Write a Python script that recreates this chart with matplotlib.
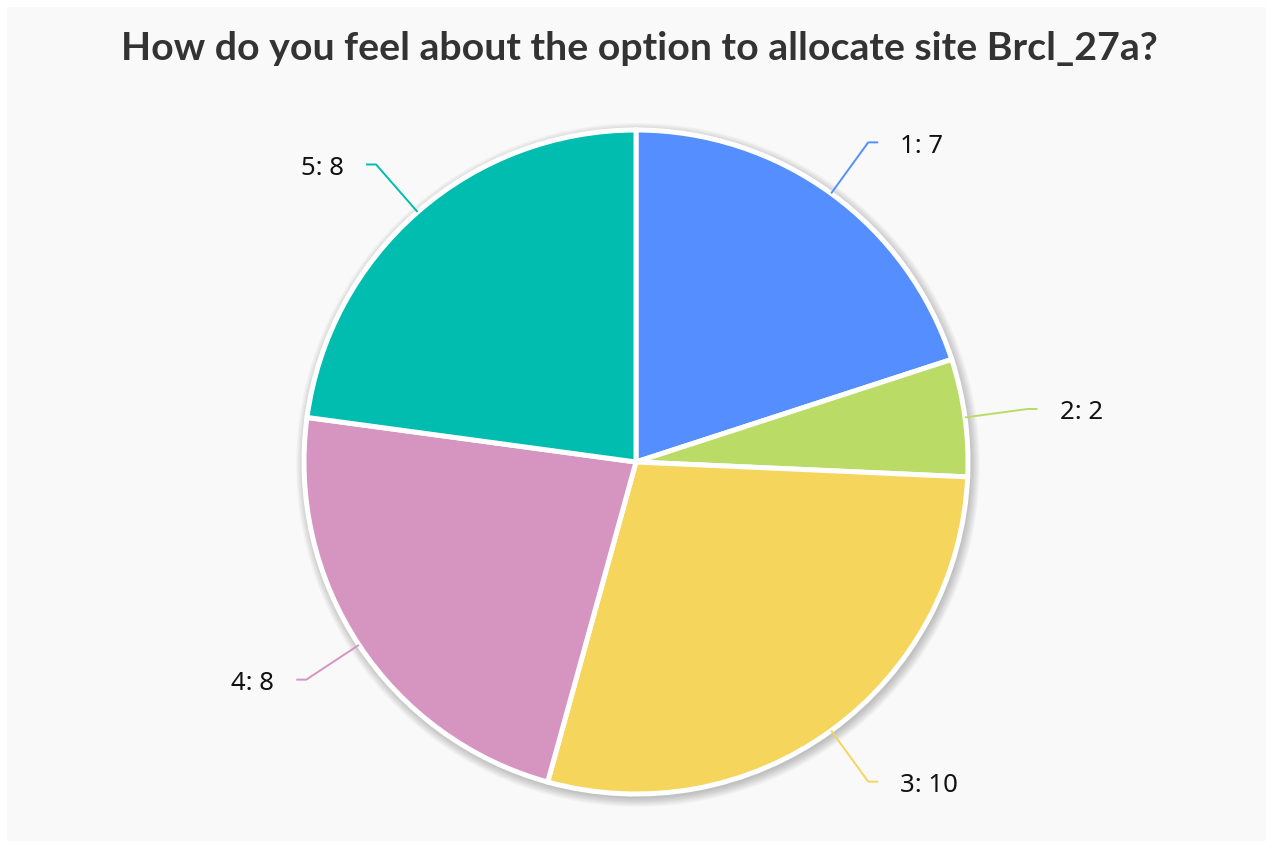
import numpy as np
import matplotlib.pyplot as plt
from matplotlib.patches import Circle, Rectangle

# survey answers for site Brcl_27a
labels = ['1', '2', '3', '4', '5']
counts = [7, 2, 10, 8, 8]
colors = ['#558fff', '#badc66', '#f6d55c', '#d595c0', '#00bdb0']

W, H = 1266, 841
fig = plt.figure(figsize=(W / 100, H / 100), dpi=100, facecolor='white')
fig.patches.append(Rectangle((7 / W, 0), 1, 1 - 7 / H, transform=fig.transFigure,
                             facecolor='#f9f9f9', edgecolor='none', zorder=-5))

ax = fig.add_axes([0, 0, 1, 1])
ax.set_facecolor('none')

cx, cy, r = 636, H - 462, 332

# soft shadow round the pie
for k in range(10):
    ax.add_patch(Circle((cx + 2, cy - 3), r + 1 + k, facecolor='black',
                        alpha=0.024, edgecolor='none', zorder=0))

wedges, _ = ax.pie(counts, colors=colors, startangle=90, counterclock=False,
                   center=(cx, cy), radius=r,
                   wedgeprops=dict(edgecolor='white', linewidth=3.6, zorder=2))

for w, lab, n, c in zip(wedges, labels, counts, colors):
    mid = np.deg2rad((w.theta1 + w.theta2) / 2)
    x0, y0 = cx + r * np.cos(mid), cy + r * np.sin(mid)
    x1, y1 = cx + 1.19 * r * np.cos(mid), cy + 1.19 * r * np.sin(mid)
    side = 1 if np.cos(mid) >= 0 else -1
    x2 = x1 + side * 10
    ax.plot([x0, x1, x2], [y0, y1, y1], color=c, lw=1.4, zorder=3,
            solid_capstyle='butt')
    ax.text(x2 + side * 22, y1 - 4, f'{lab}: {n}', ha='left' if side > 0 else 'right',
            va='center', fontsize=18.5, color='#111111', family='Noto Sans')

ax.set_xlim(0, W)
ax.set_ylim(0, H)
ax.set_aspect('equal')
ax.axis('off')

fig.text(639 / W, 1 - 48 / H, 'How do you feel about the option to allocate site Brcl_27a?',
         ha='center', va='center', fontsize=28.3, fontweight='bold', color='#333333',
         family='Lato')

fig.savefig('out.png', dpi=100, facecolor=fig.get_facecolor())
